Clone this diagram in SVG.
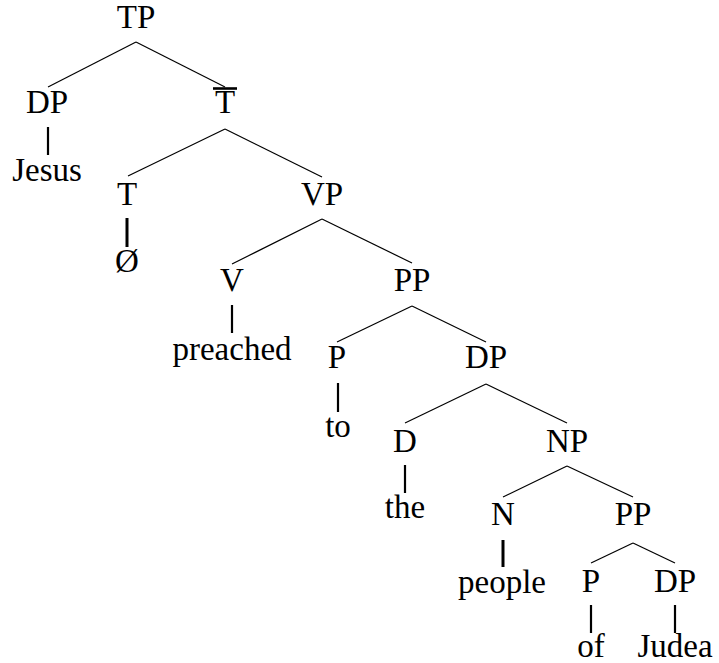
<svg xmlns="http://www.w3.org/2000/svg" width="719" height="663" viewBox="0 0 719 663" font-family="Liberation Serif, Times New Roman, Noto Serif, DejaVu Serif, serif">
  <style>
    text { font-size: 33px; fill: #000; text-anchor: middle; }
    .branch { stroke: #000; stroke-width: 1.2; fill: none; }
    .stem { stroke: #000; stroke-width: 2.2; fill: none; }
    .stem-bold { stroke: #000; stroke-width: 3; fill: none; }
  </style>
  <rect width="719" height="663" fill="#fff"/>

  <!-- connectors -->
  <g id="connectors">
    <!-- TP -->
    <line class="branch" x1="136" y1="42" x2="48" y2="87"/>
    <line class="branch" x1="136" y1="42" x2="225" y2="87"/>
    <!-- T-bar -->
    <line class="branch" x1="225" y1="129" x2="128" y2="176"/>
    <line class="branch" x1="225" y1="129" x2="322" y2="177"/>
    <!-- VP -->
    <line class="branch" x1="322" y1="219" x2="232" y2="264"/>
    <line class="branch" x1="322" y1="219" x2="412" y2="263"/>
    <!-- PP -->
    <line class="branch" x1="412" y1="306" x2="337" y2="342"/>
    <line class="branch" x1="412" y1="306" x2="486" y2="342"/>
    <!-- DP -->
    <line class="branch" x1="486" y1="384" x2="405" y2="423"/>
    <line class="branch" x1="486" y1="384" x2="567" y2="423"/>
    <!-- NP -->
    <line class="branch" x1="567" y1="466" x2="503" y2="497"/>
    <line class="branch" x1="567" y1="466" x2="633" y2="497"/>
    <!-- lower PP -->
    <line class="branch" x1="633" y1="543" x2="591" y2="563"/>
    <line class="branch" x1="633" y1="543" x2="675" y2="563"/>
    <!-- terminal stems -->
    <line class="stem" x1="48" y1="127" x2="48" y2="155"/>
    <line class="stem-bold" x1="127" y1="218" x2="127" y2="247"/>
    <line class="stem" x1="232" y1="305" x2="232" y2="333"/>
    <line class="stem" x1="338" y1="383" x2="338" y2="412"/>
    <line class="stem" x1="405" y1="465" x2="405" y2="493"/>
    <line class="stem-bold" x1="503" y1="540" x2="503" y2="567"/>
    <line class="stem" x1="591" y1="605" x2="591" y2="633"/>
    <line class="stem" x1="675" y1="605" x2="675" y2="633"/>
  </g>

  <g id="tp"><text x="136" y="28">TP</text></g>
  <g id="dp-subject"><text x="47" y="113">DP</text></g>
  <g id="jesus"><text x="47" y="181">Jesus</text></g>
  <g id="t-bar">
    <line x1="213" y1="88.5" x2="237" y2="88.5" stroke="#000" stroke-width="2.6"/>
    <text x="225" y="113">T</text>
  </g>
  <g id="t"><text x="127" y="205">T</text></g>
  <g id="null"><text x="127" y="272">Ø</text></g>
  <g id="vp"><text x="322" y="205">VP</text></g>
  <g id="v"><text x="232" y="291">V</text></g>
  <g id="preached"><text x="232" y="360">preached</text></g>
  <g id="pp"><text x="412" y="291">PP</text></g>
  <g id="p-to"><text x="337" y="368">P</text></g>
  <g id="to"><text x="338" y="437">to</text></g>
  <g id="dp-object"><text x="486" y="368">DP</text></g>
  <g id="d"><text x="405" y="452">D</text></g>
  <g id="the"><text x="405" y="518">the</text></g>
  <g id="np"><text x="567" y="452">NP</text></g>
  <g id="n"><text x="503" y="525">N</text></g>
  <g id="people"><text x="502" y="593">people</text></g>
  <g id="pp-lower"><text x="633" y="525">PP</text></g>
  <g id="p-of"><text x="591" y="592">P</text></g>
  <g id="of"><text x="591" y="657">of</text></g>
  <g id="dp-judea"><text x="675" y="592">DP</text></g>
  <g id="judea"><text x="675" y="657">Judea</text></g>
</svg>
